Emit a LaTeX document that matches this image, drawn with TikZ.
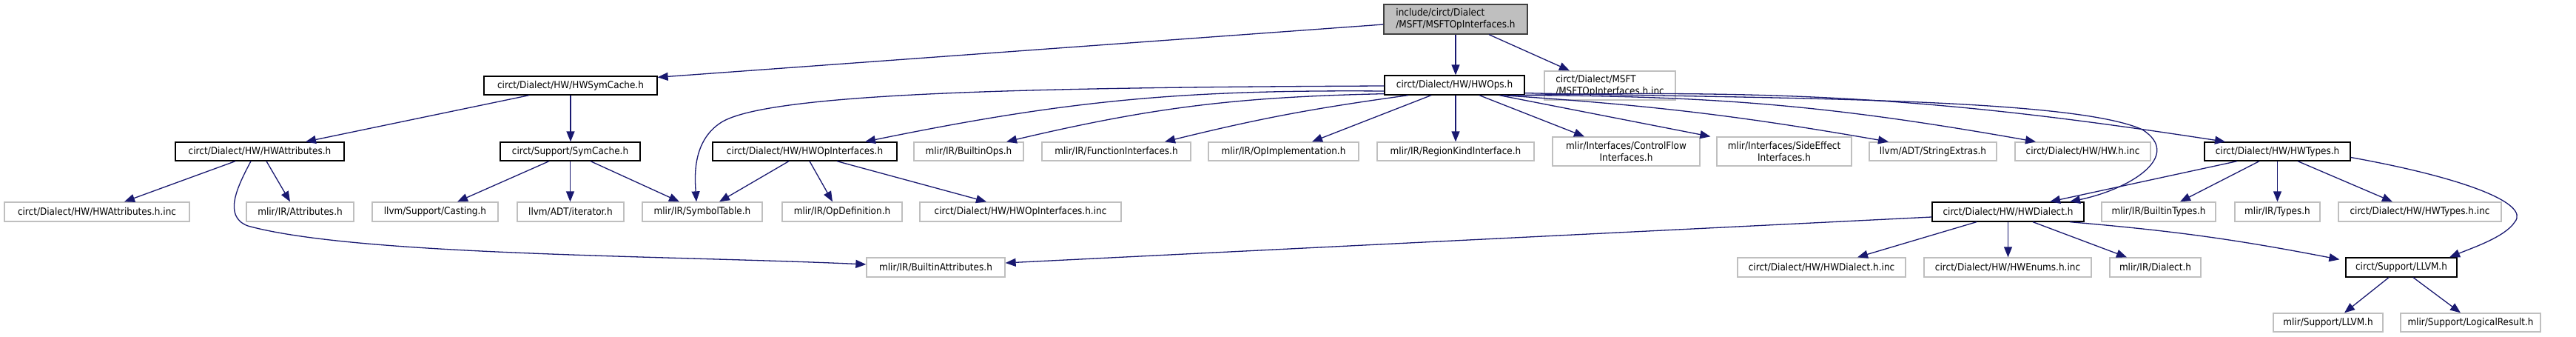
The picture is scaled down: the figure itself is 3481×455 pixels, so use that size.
\documentclass[tikz,border=0pt]{standalone}
\usepackage{fontspec}
\newfontfamily\dfont{DejaVu Sans Condensed}
\usetikzlibrary{arrows.meta,calc}
\definecolor{edgeblue}{RGB}{25,25,112}
\definecolor{greyline}{RGB}{191,191,191}
\definecolor{mainfill}{RGB}{191,191,191}
\definecolor{maindraw}{RGB}{64,64,64}
\begin{document}
\begin{tikzpicture}[x=1pt,y=-1pt,
  box/.style={rectangle,inner sep=0pt,line width=1.3pt,font=\dfont\fontsize{13.4}{16}\selectfont,align=center},
  doc/.style={box,draw=black,fill=white},
  undoc/.style={box,draw=greyline,fill=white},
  mainbox/.style={box,draw=maindraw,fill=mainfill,align=left},
  dep/.style={draw=edgeblue,line width=1.3pt,-{Triangle[length=14pt,width=11pt]},fill=none}
]
\useasboundingbox (0,0) rectangle (3481,455);
% nodes
\node[mainbox,minimum width=194,minimum height=40] (main) at (1967,26) {include/circt/Dialect\\/MSFT/MSFTOpInterfaces.h};
\node[doc,minimum width=234,minimum height=25] (symcache) at (771,115.5) {circt/Dialect/HW/HWSymCache.h};
\node[doc,minimum width=189,minimum height=26] (hwops) at (1965.5,115) {circt/Dialect/HW/HWOps.h};
\node[undoc,minimum width=177,minimum height=39,align=left] (msftinc) at (2175.5,115.5) {circt/Dialect/MSFT\\/MSFTOpInterfaces.h.inc};
\node[doc,minimum width=228,minimum height=25] (hwattr) at (351,204.5) {circt/Dialect/HW/HWAttributes.h};
\node[doc,minimum width=189,minimum height=25] (supsym) at (770.5,204.5) {circt/Support/SymCache.h};
\node[doc,minimum width=249,minimum height=25] (hwopif) at (1087.5,204.5) {circt/Dialect/HW/HWOpInterfaces.h};
\node[undoc,minimum width=148,minimum height=25] (builtinops) at (1309,204.5) {mlir/IR/BuiltinOps.h};
\node[undoc,minimum width=201,minimum height=25] (funcif) at (1508.5,204.5) {mlir/IR/FunctionInterfaces.h};
\node[undoc,minimum width=203,minimum height=25] (opimpl) at (1734.5,204.5) {mlir/IR/OpImplementation.h};
\node[undoc,minimum width=212,minimum height=25] (regionkind) at (1967,204.5) {mlir/IR/RegionKindInterface.h};
\node[undoc,minimum width=199,minimum height=39] (cflow) at (2197.5,204.5) {mlir/Interfaces/ControlFlow\\Interfaces.h};
\node[undoc,minimum width=182,minimum height=39] (sideeff) at (2411,204.5) {mlir/Interfaces/SideEffect\\Interfaces.h};
\node[undoc,minimum width=172,minimum height=25] (strext) at (2612,204.5) {llvm/ADT/StringExtras.h};
\node[undoc,minimum width=183,minimum height=25] (hwinc) at (2814.5,204.5) {circt/Dialect/HW/HW.h.inc};
\node[doc,minimum width=197,minimum height=25] (hwtypes) at (3077.5,204.5) {circt/Dialect/HW/HWTypes.h};
\node[undoc,minimum width=250,minimum height=26] (hwattrinc) at (131,286) {circt/Dialect/HW/HWAttributes.h.inc};
\node[undoc,minimum width=145,minimum height=26] (attrs) at (405.5,286) {mlir/IR/Attributes.h};
\node[undoc,minimum width=170,minimum height=26] (casting) at (588,286) {llvm/Support/Casting.h};
\node[undoc,minimum width=144,minimum height=26] (iterator) at (771,286) {llvm/ADT/iterator.h};
\node[undoc,minimum width=162,minimum height=26] (symtab) at (949,286) {mlir/IR/SymbolTable.h};
\node[undoc,minimum width=162,minimum height=26] (opdef) at (1138,286) {mlir/IR/OpDefinition.h};
\node[undoc,minimum width=272,minimum height=26] (hwopifinc) at (1379,286) {circt/Dialect/HW/HWOpInterfaces.h.inc};
\node[doc,minimum width=205,minimum height=26] (hwdialect) at (2713.5,286) {circt/Dialect/HW/HWDialect.h};
\node[undoc,minimum width=154,minimum height=26] (builtintypes) at (2917,286) {mlir/IR/BuiltinTypes.h};
\node[undoc,minimum width=115,minimum height=26] (types) at (3077.5,286) {mlir/IR/Types.h};
\node[undoc,minimum width=220,minimum height=26] (hwtypesinc) at (3270,286) {circt/Dialect/HW/HWTypes.h.inc};
\node[undoc,minimum width=187,minimum height=26] (builtinattrs) at (1264.5,361) {mlir/IR/BuiltinAttributes.h};
\node[undoc,minimum width=227,minimum height=26] (dialectinc) at (2461.5,361) {circt/Dialect/HW/HWDialect.h.inc};
\node[undoc,minimum width=226,minimum height=26] (enumsinc) at (2713,361) {circt/Dialect/HW/HWEnums.h.inc};
\node[undoc,minimum width=123,minimum height=26] (dialect) at (2912.5,361) {mlir/IR/Dialect.h};
\node[doc,minimum width=150,minimum height=26] (cllvm) at (3245,361) {circt/Support/LLVM.h};
\node[undoc,minimum width=148,minimum height=25] (mllvm) at (3146,435.5) {mlir/Support/LLVM.h};
\node[undoc,minimum width=189,minimum height=25] (logres) at (3338.5,435.5) {mlir/Support/LogicalResult.h};
% edges
\draw[dep] ($(main.west)+(0,7)$) -- ($(symcache.north east)+(0,2)$);
\draw[dep] (main.south) -- (main.south |- hwops.north);
\draw[dep] ($(main.south)+(45,0)$) -- ($(msftinc.north)+(-54.5,0)$);
\draw[dep] ($(symcache.south)+(-56,0)$) -- ($(hwattr.north)+(62,0)$);
\draw[dep] (symcache.south) -- (symcache.south |- supsym.north);
\draw[dep] ($(hwattr.south)+(-33,0)$) -- ($(hwattrinc.north)+(37,0)$);
\draw[dep] ($(hwattr.south)+(9,0)$) -- ($(attrs.north)+(-13.5,0)$);
\draw[dep] ($(hwattr.south)+(-12,0)$) .. controls (322,250) and (300,292) .. (335,305) .. controls (480,345) and (900,345) .. ($(builtinattrs.west)+(0,-4)$);
\draw[dep] ($(supsym.south)+(-28.5,0)$) -- ($(casting.north)+(30,0)$);
\draw[dep] (supsym.south) -- (supsym.south |- iterator.north);
\draw[dep] ($(supsym.south)+(27.5,0)$) -- ($(symtab.north)+(-31,0)$);
\draw[dep] ($(hwopif.south)+(-21.5,0)$) -- ($(symtab.north)+(23,0)$);
\draw[dep] ($(hwopif.south)+(6.5,0)$) -- ($(opdef.north)+(-13,0)$);
\draw[dep] ($(hwopif.south)+(43.5,0)$) -- ($(hwopifinc.north)+(-46,0)$);
\draw[dep] ($(hwops.west)+(0,1)$) .. controls (1400,118) and (1040,125) .. (975,165) .. controls (935,190) and (939,240) .. ($(symtab.north)+(-8,0)$);
\draw[dep] ($(hwops.west)+(0,8)$) to[bend right=6] ($(hwopif.north)+(81.5,0)$);
\draw[dep] ($(hwops.south west)+(0,-2)$) to[bend right=6] ($(builtinops.north)+(51,0)$);
\draw[dep] ($(hwops.south)+(-62.5,0)$) to[bend right=3] ($(funcif.north)+(65.5,0)$);
\draw[dep] ($(hwops.south)+(-31.5,0)$) -- ($(opimpl.north)+(38.5,0)$);
\draw[dep] (regionkind.north |- hwops.south) -- (regionkind.north);
\draw[dep] ($(hwops.south)+(33.5,0)$) -- ($(cflow.north)+(-56.5,0)$);
\draw[dep] ($(hwops.south)+(60.5,0)$) -- ($(sideeff.north west)+(-8,0)$);
\draw[dep] ($(hwops.south)+(65,0)$) to[bend left=3] ($(strext.north)+(-60,0)$);
\draw[dep] ($(hwops.south)+(75,0)$) to[bend left=5] ($(hwinc.north)+(-63.5,0)$);
\draw[dep] ($(hwops.south)+(85,0)$) to[bend left=5] ($(hwtypes.north)+(-70.5,0)$);
\draw[dep] ($(hwops.south east)+(0,-3)$) .. controls (2400,133) and (2800,132) .. (2895,175) .. controls (2950,210) and (2880,255) .. ($(hwdialect.north)+(83.5,0)$);
\draw[dep] ($(hwtypes.south)+(-54.5,0)$) -- ($(hwdialect.north)+(56.5,0)$);
\draw[dep] ($(hwtypes.south)+(-24.5,0)$) -- ($(builtintypes.north)+(29,0)$);
\draw[dep] (hwtypes.south) -- (types.north);
\draw[dep] ($(hwtypes.south)+(27.5,0)$) -- ($(hwtypesinc.north)+(-37,0)$);
\draw[dep] ($(hwtypes.east)+(0,8)$) .. controls (3330,240) and (3420,275) .. (3398,300) .. controls (3385,320) and (3340,335) .. ($(cllvm.north)+(65,0)$);
\draw[dep] ($(hwdialect.west)+(0,7)$) -- ($(builtinattrs.east)+(0,-6)$);
\draw[dep] ($(hwdialect.south)+(-42.5,0)$) -- ($(dialectinc.north)+(48.5,0)$);
\draw[dep] (hwdialect.south) -- (hwdialect.south |- enumsinc.north);
\draw[dep] ($(hwdialect.south)+(33.5,0)$) -- ($(dialect.north)+(-38.5,0)$);
\draw[dep] ($(hwdialect.south)+(83.5,0)$) to[bend left=3] ($(cllvm.north west)+(-8,3)$);
\draw[dep] ($(cllvm.south)+(-17,0)$) -- ($(mllvm.north)+(22,0)$);
\draw[dep] ($(cllvm.south)+(16,0)$) -- ($(logres.north)+(-13.5,0)$);
\end{tikzpicture}
\end{document}
